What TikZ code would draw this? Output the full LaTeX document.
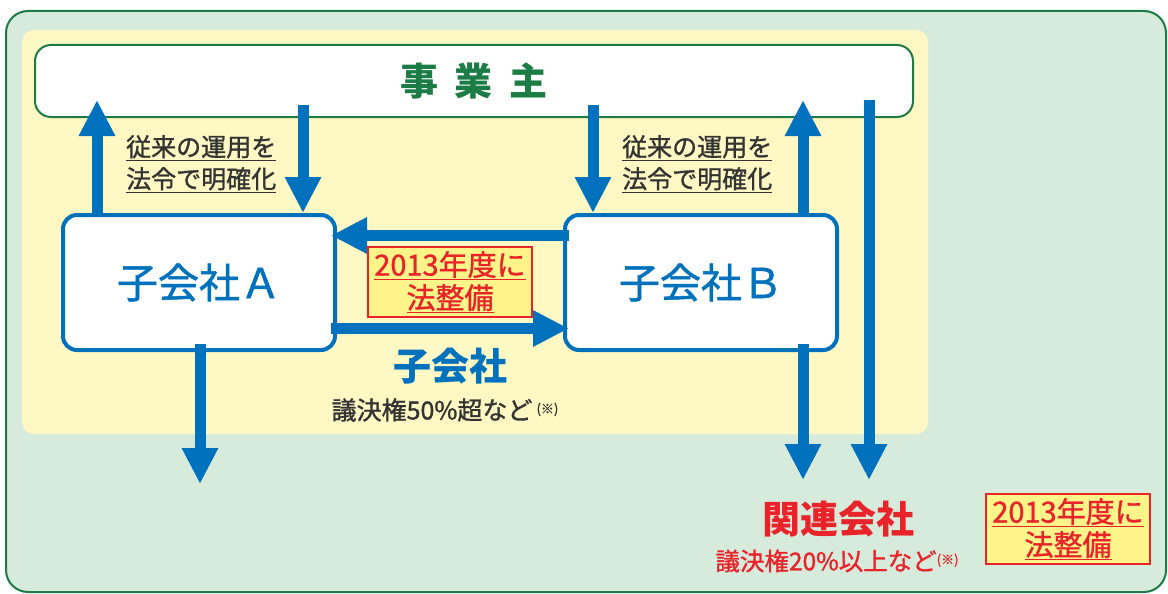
\documentclass[tikz,border=0pt]{standalone}
\usepackage{fontspec}
\setmainfont{Noto Sans CJK JP}
\newfontfamily\medfont{Noto Sans CJK JP}[RawFeature={embolden=1.2}]
\usetikzlibrary{arrows.meta}

\definecolor{bgGreen}{HTML}{D7EBDC}
\definecolor{lineGreen}{HTML}{1B7C45}
\definecolor{areaYellow}{HTML}{FEF8C4}
\definecolor{tagYellow}{HTML}{FFF48A}
\definecolor{flowBlue}{HTML}{0071BC}
\definecolor{markRed}{HTML}{E8232A}
\definecolor{noteGray}{HTML}{333333}

\tikzset{
  company/.style={draw=flowBlue, line width=4pt, fill=white, rounded corners=14pt,
    minimum width=272pt, minimum height=135pt, text=flowBlue,
    font=\fontsize{41}{44}\medfont},
  flow/.style={draw=flowBlue, line width=11pt,
    -{Triangle[width=34pt,length=36pt]}},
  tag/.style={draw=markRed, line width=2pt, fill=tagYellow, text=markRed,
    align=center, inner sep=2pt, minimum width=164pt, minimum height=70pt,
    font=\fontsize{29}{33}\medfont},
  note/.style={text=noteGray, align=left, inner sep=0pt,
    font=\fontsize{25}{32}\medfont}
}

\begin{document}
\begin{tikzpicture}[x=1pt,y=-1pt]
\useasboundingbox (0,0) rectangle (1168,594);

% background areas
\draw[lineGreen, line width=2pt, fill=bgGreen, rounded corners=22pt] (6,11) rectangle (1166,592);
\fill[areaYellow, rounded corners=12pt] (22,30) rectangle (928,434);

% owner
\node[draw=lineGreen, line width=2pt, fill=white, rounded corners=16pt,
  minimum width=878pt, minimum height=72pt, text=lineGreen,
  font=\fontsize{38}{40}\selectfont\bfseries] (owner) at (474,81)
  {事\hspace{17pt}業\hspace{17pt}主};

% companies
\node[company] (compA) at (199,282.5) {子会社Ａ};
\node[company] (compB) at (701,282.5) {子会社Ｂ};

% arrow ends
\coordinate (upA) at (97,100);
\coordinate (downA) at (303,105);
\coordinate (downB) at (593,105);
\coordinate (upB) at (803,100);
\coordinate (sideTop) at (869,100);
\coordinate (endA) at (200,484);
\coordinate (endB) at (803,480);
\coordinate (endSide) at (869,480);

% vertical flows
\draw[flow] (compA.north -| upA) -- (upA);
\draw[flow] (downA) -- (compA.north -| downA);
\draw[flow] (downB) -- (compB.north -| downB);
\draw[flow] (compB.north -| upB) -- (upB);
\draw[flow] (sideTop) -- (endSide);
\draw[flow] ([yshift=8pt]compB.south -| endB) -- (endB);
\draw[flow] ([yshift=8pt]compA.south -| endA) -- (endA);

% horizontal flows
\draw[flow] ([xshift=6pt,yshift=47pt]compB.west) -- ([xshift=-6pt,yshift=47pt]compA.east);
\draw[flow] ([xshift=-6pt,yshift=-46pt]compA.east) -- ([xshift=6pt,yshift=-46pt]compB.west);

% notes
\node[note, anchor=north west] (noteA) at (126,135)
  {\underline{従来の運用を}\\\underline{法令で明確化}};
\node[note, anchor=north west] (noteB) at (622,135)
  {\underline{従来の運用を}\\\underline{法令で明確化}};

% law tags
\node[tag] (tagSub) at (450,282) {\underline{2013年度に}\\\underline{法整備}};
\node[tag] (tagRel) at (1068,529) {\underline{2013年度に}\\\underline{法整備}};

% subsidiary label
\node[text=flowBlue, font=\fontsize{38}{40}\selectfont\bfseries] (subLabel) at (450,366) {子会社};
\node[text=noteGray, font=\fontsize{25}{28}\medfont] (subRule) at (445,410)
  {議決権50\%超など\,{\fontsize{13}{14}\selectfont\raisebox{6pt}{(※)}}};

% affiliate label
\node[text=markRed, font=\fontsize{38}{40}\selectfont\bfseries] (relLabel) at (838,519) {関連会社};
\node[text=markRed, font=\fontsize{24.5}{27}\medfont] (relRule) at (837,561)
  {議決権20\%以上など{\fontsize{13}{14}\selectfont\raisebox{6pt}{(※)}}};

\end{tikzpicture}
\end{document}
